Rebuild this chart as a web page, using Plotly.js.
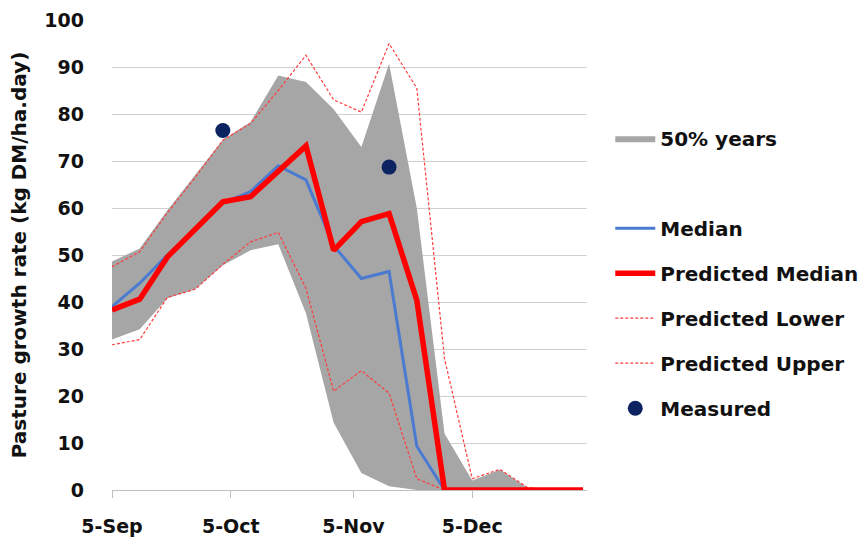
<!DOCTYPE html>
<html>
<head>
<meta charset="utf-8">
<script src="https://cdn.plot.ly/plotly-3.0.1.min.js"></script>
<style>
  html, body { margin: 0; padding: 0; background: #ffffff; }
  #chart { width: 867px; height: 540px; }
</style>
</head>
<body>
<div id="chart"></div>
<script>
// Weekly observation dates (season starting 5 September)
const weeks = [
  '2016-09-05', '2016-09-12', '2016-09-19', '2016-09-26', '2016-10-03', '2016-10-10',
  '2016-10-17', '2016-10-24', '2016-10-31', '2016-11-07', '2016-11-14', '2016-11-21',
  '2016-11-28', '2016-12-05', '2016-12-12', '2016-12-19', '2016-12-26', '2017-01-02'
];

// Band containing 50% of years (lower and upper edge), kg DM/ha.day
const band50Lower = [32, 34.2, 40.8, 42.7, 47.8, 51, 52.3, 37.6, 14.3, 3.6, 0.8, 0, 0, 0, 0, 0, 0, 0];
const band50Upper = [48.6, 51.4, 59.5, 67, 74.5, 78.3, 88.2, 86.8, 81, 73, 90.7, 60, 12, 2, 4.3, 0.5, 0, 0];

// Long-term median growth
const median = [39, 44, 50, 55.5, 61, 63.5, 69, 66, 52, 45, 46.5, 9.3, 0, 0, 0, 0, 0, 0];

// Forecast for the current season
const predMedian = [38.3, 40.6, 49.6, 55.3, 61.3, 62.4, 68, 73.2, 51, 57.1, 58.8, 40.4, 0, 0, 0, 0, 0, 0];
const predLower  = [30.9, 32, 41, 42.7, 48, 52.8, 54.8, 42.9, 21, 25.4, 20.6, 2.4, 0, 0, 0, 0, 0, 0];
const predUpper  = [47.5, 50.7, 59, 66.5, 74.4, 78, 85, 92.5, 83, 80.4, 95, 85.5, 28, 2.4, 4.4, 0.5, 0, 0];

// On-farm measurements
const measuredDates  = ['2016-10-03', '2016-11-14'];
const measuredValues = [76.5, 68.7];

// Axis ticks
const xTickDates  = ['2016-09-05', '2016-10-05', '2016-11-05', '2016-12-05'];
const xTickLabels = ['5-Sep', '5-Oct', '5-Nov', '5-Dec'];
const yTickValues = [0, 10, 20, 30, 40, 50, 60, 70, 80, 90, 100];

const FONT = 'DejaVu Sans, Verdana, sans-serif';
const INK = '#111111';

const traces = [
  {
    // white base up to the lower edge of the band (hides gridlines beneath)
    x: weeks, y: band50Lower, name: ' ', type: 'scatter', mode: 'lines',
    line: { width: 0, color: '#ffffff' }, fill: 'tozeroy', fillcolor: '#ffffff',
    legendgroup: 'g2', legendrank: 2, hoverinfo: 'skip'
  },
  {
    x: weeks, y: band50Upper, name: '50% years', type: 'scatter', mode: 'lines',
    line: { width: 0, color: '#a6a6a6' }, fill: 'tonexty', fillcolor: '#a6a6a6',
    legendgroup: 'g1', legendrank: 1
  },
  {
    x: weeks, y: predLower, name: 'Predicted Lower', type: 'scatter', mode: 'lines',
    line: { width: 1.2, color: '#ff3b3b', dash: '3px,2px' },
    legendgroup: 'g5', legendrank: 5
  },
  {
    x: weeks, y: predUpper, name: 'Predicted Upper', type: 'scatter', mode: 'lines',
    line: { width: 1.2, color: '#ff3b3b', dash: '3px,2px' },
    legendgroup: 'g6', legendrank: 6
  },
  {
    x: weeks, y: median, name: 'Median', type: 'scatter', mode: 'lines',
    line: { width: 3, color: '#4a7bd0' },
    legendgroup: 'g3', legendrank: 3
  },
  {
    x: weeks, y: predMedian, name: 'Predicted Median', type: 'scatter', mode: 'lines',
    line: { width: 5.5, color: '#ff0000' },
    legendgroup: 'g4', legendrank: 4
  },
  {
    x: measuredDates, y: measuredValues, name: 'Measured', type: 'scatter', mode: 'markers',
    marker: { size: 15, color: '#0b2360' },
    legendgroup: 'g7', legendrank: 7
  }
];

const layout = {
  width: 867,
  height: 540,
  margin: { l: 112, r: 280, t: 20, b: 50, autoexpand: false },
  paper_bgcolor: '#ffffff',
  plot_bgcolor: '#ffffff',
  showlegend: true,
  font: { family: FONT, color: INK },
  xaxis: {
    type: 'date',
    range: ['2016-09-05', '2017-01-03'],
    tickmode: 'array',
    tickvals: xTickDates,
    ticktext: xTickLabels,
    showgrid: false,
    zeroline: false,
    showline: true,
    linecolor: '#bfbfbf',
    linewidth: 1,
    ticks: 'outside',
    ticklen: 7,
    tickcolor: '#bfbfbf',
    ticklabelstandoff: 12,
    automargin: false,
    tickfont: { family: FONT, size: 19, weight: 'bold', color: INK }
  },
  yaxis: {
    range: [0, 100],
    tickmode: 'array',
    tickvals: yTickValues,
    showgrid: true,
    gridcolor: '#d0d0d0',
    gridwidth: 1,
    zeroline: false,
    showline: false,
    ticks: '',
    ticklabelstandoff: 27,
    automargin: false,
    tickfont: { family: FONT, size: 19, weight: 'bold', color: INK },
    title: {
      text: 'Pasture growth rate (kg DM/ha.day)',
      font: { family: FONT, size: 20, weight: 'bold', color: INK },
      standoff: 12
    }
  },
  legend: {
    x: 1.049, xanchor: 'left',
    y: 0.79, yanchor: 'top',
    traceorder: 'grouped',
    tracegroupgap: 16,
    itemwidth: 40,
    bgcolor: 'rgba(0,0,0,0)',
    font: { family: FONT, size: 20, weight: 'bold', color: INK }
  }
};

Plotly.newPlot('chart', traces, layout, { displayModeBar: false, staticPlot: true });
</script>
</body>
</html>
